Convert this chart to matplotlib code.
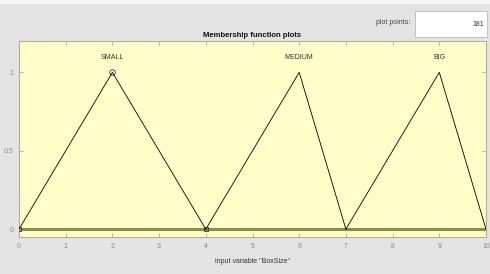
import matplotlib
matplotlib.use("Agg")
import matplotlib.pyplot as plt
from matplotlib.patches import Rectangle

plt.rcParams['font.family'] = ['Liberation Sans Narrow', 'Liberation Sans', 'DejaVu Sans']

mf_names = ["SMALL", "MEDIUM", "BIG"]
mf_params = [[0, 2, 4], [4, 6, 7], [7, 9, 10]]
x_ticks = [0, 1, 2, 3, 4, 5, 6, 7, 8, 9, 10]
y_ticks = [0, 0.5, 1]
y_tick_labels = ["0", "0.5", "1"]
plot_points = "181"

W, H = 490, 274
fig = plt.figure(figsize=(W / 100, H / 100), dpi=100)
fig.patch.set_facecolor("#e4e4e4")
# light top strip
fig.patches.append(Rectangle((0, 1 - 4 / H), 1, 4 / H, transform=fig.transFigure,
                             facecolor="#f4f4f4", edgecolor="none"))

ax = fig.add_axes([19 / W, 1 - 237 / H, (486 - 19) / W, (237 - 41) / H])
ax.set_facecolor("#fffdc8")
ax.set_xlim(0, 10)
ax.set_ylim(-0.05, 1.2)

# baseline (zero membership region)
ax.plot([0, 10], [0, 0], color="#8c8c4a", lw=2.2, zorder=2)
for name, (a, b, c) in zip(mf_names, mf_params):
    ax.plot([a, b, c], [0, 1, 0], color="black", lw=0.6, zorder=3)
    ax.text(b, 1.07, name, ha="center", va="bottom", fontsize=5, color="#333333")

# selected mf markers (SMALL)
sa, sb, sc = mf_params[0]
ax.plot([sa, sc], [0, 0], ls="none", marker="s", ms=3.5, mfc="none", mec="#333333", mew=0.6, zorder=4)
ax.plot([sb], [1], ls="none", marker="o", ms=4, mfc="none", mec="#333333", mew=0.6, zorder=4)

ax.set_xticks(x_ticks)
ax.set_xticklabels([str(t) for t in x_ticks])
ax.set_yticks(y_ticks)
ax.set_yticklabels(y_tick_labels)
ax.tick_params(axis="both", direction="in", length=3, width=0.5, colors="#999999",
               labelsize=5, labelcolor="#888888", top=True, right=True, pad=4)
for s in ax.spines.values():
    s.set_color("#b0b0a0")
    s.set_linewidth(0.8)

ax.set_title("Membership function plots", fontsize=5.5, color="#111111", pad=3, fontweight="bold")
ax.set_xlabel('input variable "BoxSize"', fontsize=5, color="#333333", labelpad=6)

fig.text(410 / W, 1 - 22 / H, "plot points:", fontsize=5, color="#444444", ha="right", va="center")
fig.patches.append(Rectangle((415 / W, 1 - 37 / H), 72 / W, 26 / H, transform=fig.transFigure,
                             facecolor="white", edgecolor="#bbbbbb", lw=0.6))
fig.text(484 / W, 1 - 24 / H, plot_points, fontsize=5, color="#333333", ha="right", va="center")

fig.savefig("out.png", dpi=100, facecolor=fig.get_facecolor())
